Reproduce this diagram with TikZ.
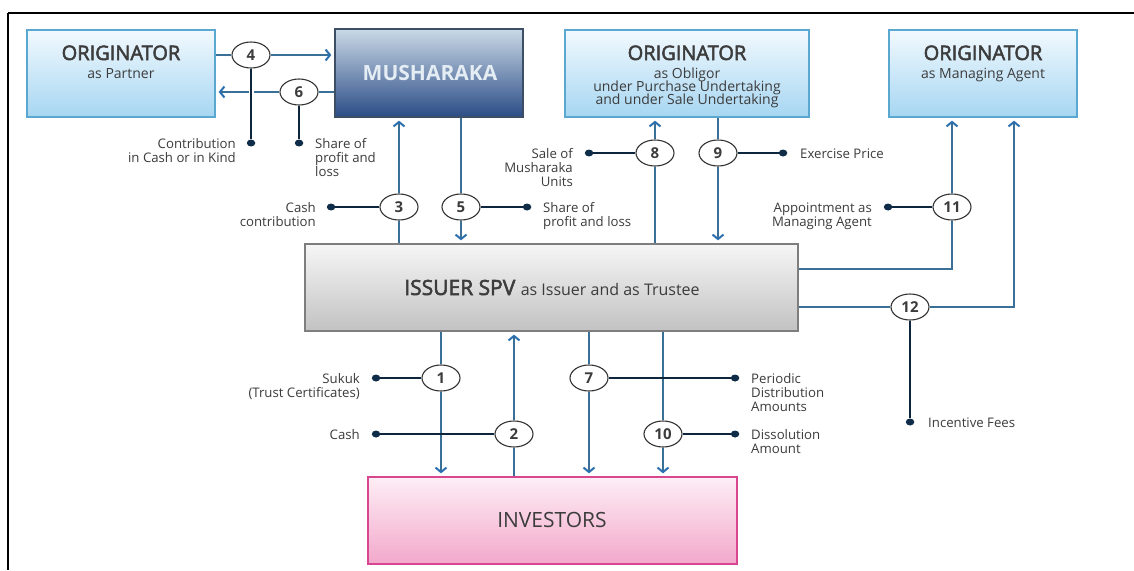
\documentclass[tikz,border=0pt]{standalone}
\usepackage{fontspec}
\setmainfont{Open Sans}
\newfontfamily\medfont{Open Sans}[FakeBold=2.6]
\usetikzlibrary{arrows.meta,shapes.geometric,calc}

\definecolor{flowc}{HTML}{3A6F98}
\definecolor{tipc}{HTML}{2B6FAE}
\definecolor{navy}{HTML}{0F2D48}
\definecolor{ink}{HTML}{3C3C3C}
\definecolor{ring}{HTML}{333333}
\definecolor{origtop}{HTML}{F2F9FE}
\definecolor{origbot}{HTML}{A6D6F2}
\definecolor{origline}{HTML}{5AA7CF}
\definecolor{mutop}{HTML}{CAD9E6}
\definecolor{mubot}{HTML}{2B4C86}
\definecolor{muline}{HTML}{3D4F66}
\definecolor{mutext}{HTML}{E4ECF4}
\definecolor{istop}{HTML}{F6F6F6}
\definecolor{isbot}{HTML}{C2C2C2}
\definecolor{isline}{HTML}{7E7E7E}
\definecolor{intop}{HTML}{FDEEF5}
\definecolor{inbot}{HTML}{F3A8CB}
\definecolor{inline}{HTML}{D8468F}

% stacked lines whose baseline is the first line
\newcommand\rlines[1]{\begin{tabular}[t]{@{}r@{}}#1\end{tabular}}
\newcommand\llines[1]{\begin{tabular}[t]{@{}l@{}}#1\end{tabular}}

\tikzset{
  box/.style={draw, line width=1.3pt, inner sep=0pt, minimum height=87pt},
  origbox/.style={box, draw=origline, top color=origtop, bottom color=origbot},
  title/.style={anchor=base, text=ink, font=\medfont\fontsize{20}{20}\selectfont},
  sub/.style={anchor=base, text=ink, inner sep=0pt, font=\fontsize{14}{13}\selectfont},
  flow/.style={draw=flowc, line width=1.3pt},
  arr/.style={flow, shorten >=3pt,
    -{Straight Barb[length=4.5pt,width=11pt,line width=2pt,color=tipc]}},
  lead/.style={draw=navy!85!black, line width=1.1pt},
  num/.style={ellipse, draw=ring, line width=1.1pt, fill=white, minimum width=38pt,
    minimum height=26pt, inner sep=0pt, text=ink,
    font=\bfseries\fontsize{15}{15}\selectfont},
  dot/.style={ellipse, fill=navy, minimum width=8.5pt, minimum height=7pt, inner sep=0pt},
  lbl/.style={text=ink, font=\fontsize{13.2}{14}\selectfont, inner sep=0pt},
  lblL/.style={lbl, anchor=base west},
  lblR/.style={lbl, anchor=base east},
}

\begin{document}
\begin{tikzpicture}[x=1pt,y=-1pt]
\useasboundingbox (0,0) rectangle (1134,570);
\fill[white] (0,0) rectangle (1134,570);

% frame lines
\draw[line width=2.6pt] (8,13) -- (1134,13);
\draw[line width=2.6pt] (8,13) -- (8,570);

% boxes
\node[origbox, minimum width=188pt] (op) at (121,73.5) {};
\node[box, draw=muline, top color=mutop, bottom color=mubot,
      minimum width=188pt, minimum height=88pt] (mu) at (429,73) {};
\node[origbox, minimum width=244pt] (ob) at (687,73.5) {};
\node[origbox, minimum width=188pt] (ma) at (983,73.5) {};
\node[box, draw=isline, top color=istop, bottom color=isbot,
      minimum width=493pt] (is) at (551.5,287.5) {};
\node[box, draw=inline, top color=intop, bottom color=inbot,
      minimum width=369pt] (in) at (552.5,520.5) {};

% box texts
\node[title] (opT) at (121,60) {ORIGINATOR};
\node[sub] (opS) at (121,78) {as Partner};
\node[title, text=mutext, font=\bfseries\fontsize{21}{21}\selectfont] (muT) at (430,80) {MUSHARAKA};
\node[title] (obT) at (687,60) {ORIGINATOR};
\node[sub] (obS1) at (687,78) {as Obligor};
\node[sub] (obS2) at (687,91) {under Purchase Undertaking};
\node[sub] (obS3) at (687,104) {and under Sale Undertaking};
\node[title] (maT) at (983,60) {ORIGINATOR};
\node[sub] (maS) at (983,78) {as Managing Agent};
\node[anchor=base, text=ink] (isT) at (552,295)
  {{\medfont\fontsize{21}{21}\selectfont ISSUER SPV\ }{\fontsize{16}{16}\selectfont as Issuer and as Trustee}};
\node[anchor=base, text=ink, font=\fontsize{21}{21}\selectfont] (inT) at (552,527) {INVESTORS};

% numbered circles
\node[num] (c4) at (251,55) {4};
\node[num] (c6) at (299,92) {6};
\node[num] (c3) at (399,207) {3};
\node[num] (c5) at (461,207) {5};
\node[num] (c8) at (655,153) {8};
\node[num] (c9) at (718,153) {9};
\node[num] (c11) at (952,207) {11};
\node[num] (c12) at (910,307) {12};
\node[num] (c1) at (441,378) {1};
\node[num] (c2) at (514,434) {2};
\node[num] (c7) at (589,378) {7};
\node[num] (c10) at (663,434) {10};

% bend points of the managing agent routes
\coordinate (k11) at (952,269);
\coordinate (k12) at (1014,307);

% flows
\draw[flow] (op.east |- c4) -- (c4.west);
\draw[arr] (c4.east) -- (c4 -| mu.west);
\draw[flow] (mu.west |- c6) -- (c6.east);
\draw[arr] (c6.west) -- (c6 -| op.east);
\draw[flow] (is.north -| c3) -- (c3.south);
\draw[arr] (c3.north) -- (c3 |- mu.south);
\draw[flow] (mu.south -| c5) -- (c5.north);
\draw[arr] (c5.south) -- (c5 |- is.north);
\draw[flow] (is.north -| c8) -- (c8.south);
\draw[arr] (c8.north) -- (c8 |- ob.south);
\draw[flow] (ob.south -| c9) -- (c9.north);
\draw[arr] (c9.south) -- (c9 |- is.north);
\draw[flow] (k11 -| is.east) -- (k11) -- (c11.south);
\draw[arr] (c11.north) -- (c11 |- ma.south);
\draw[flow] (c12 -| is.east) -- (c12.west);
\draw[arr] (c12.east) -- (k12) -- (k12 |- ma.south);
\draw[flow] (is.south -| c1) -- (c1.north);
\draw[arr] (c1.south) -- (c1 |- in.north);
\draw[flow] (in.north -| c2) -- (c2.south);
\draw[arr] (c2.north) -- (c2 |- is.south);
\draw[flow] (is.south -| c7) -- (c7.north);
\draw[arr] (c7.south) -- (c7 |- in.north);
\draw[flow] (is.south -| c10) -- (c10.north);
\draw[arr] (c10.south) -- (c10 |- in.north);

% label dots
\node[dot] (d4) at (251,143) {};
\node[dot] (d6) at (299,143) {};
\node[dot] (d3) at (331,207) {};
\node[dot] (d5) at (527,207) {};
\node[dot] (d8) at (589,153) {};
\node[dot] (d9) at (783,153) {};
\node[dot] (d11) at (888,207) {};
\node[dot] (d12) at (910,422) {};
\node[dot] (d1) at (376,378) {};
\node[dot] (d2) at (376,434) {};
\node[dot] (d7) at (735,378) {};
\node[dot] (d10) at (735,434) {};

% leaders from circles to dots
\draw[lead, preaction={draw=white, line width=5pt, shorten <=4pt, shorten >=4pt}] (c4.south) -- (d4);
\draw[lead] (c6.south) -- (d6);
\draw[lead] (c3.west) -- (d3);
\draw[lead] (c5.east) -- (d5);
\draw[lead] (c8.west) -- (d8);
\draw[lead] (c9.east) -- (d9);
\draw[lead] (c11.west) -- (d11);
\draw[lead] (c12.south) -- (d12);
\draw[lead] (c1.west) -- (d1);
\draw[lead] (c2.west) -- (d2);
\draw[lead] (c7.east) -- (d7);
\draw[lead] (c10.east) -- (d10);

% labels
\node[lblR] (l4) at ($(d4)+(-15,5)$) {\rlines{Contribution\\in Cash or in Kind}};
\node[lblL] (l6) at ($(d6)+(16,5)$) {\llines{Share of\\profit and\\loss}};
\node[lblR] (l3) at ($(d3)+(-15,5)$) {\rlines{Cash\\contribution}};
\node[lblL] (l5) at ($(d5)+(16,5)$) {\llines{Share of\\profit and loss}};
\node[lblR] (l8) at ($(d8)+(-16,5)$) {\rlines{Sale of\\Musharaka\\Units}};
\node[lblL] (l9) at ($(d9)+(17,5)$) {Exercise Price};
\node[lblR] (l11) at ($(d11)+(-16,5)$) {\rlines{Appointment as\\Managing Agent}};
\node[lblL] (l12) at ($(d12)+(18,5)$) {Incentive Fees};
\node[lblR] (l1) at ($(d1)+(-16,5)$) {\rlines{Sukuk\\(Trust Certificates)}};
\node[lblR] (l2) at ($(d2)+(-16,5)$) {Cash};
\node[lblL] (l7) at ($(d7)+(16,5)$) {\llines{Periodic\\Distribution\\Amounts}};
\node[lblL] (l10) at ($(d10)+(16,5)$) {\llines{Dissolution\\Amount}};
\end{tikzpicture}
\end{document}
